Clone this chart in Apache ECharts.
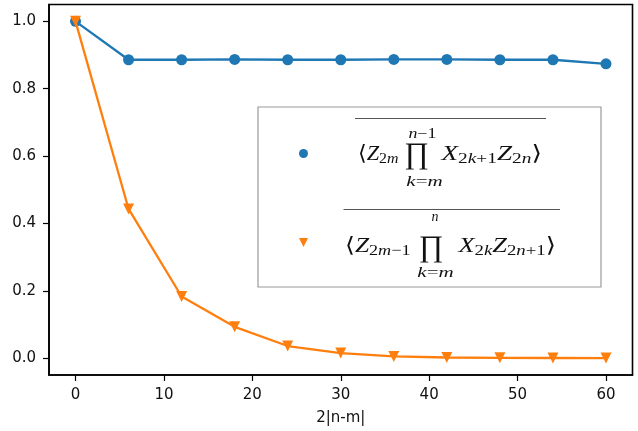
<!DOCTYPE html>
<html>
<head>
<meta charset="utf-8">
<script src="https://cdn.jsdelivr.net/npm/echarts@6/dist/echarts.min.js"></script>
<style>
html,body{margin:0;padding:0;background:#fff;}
#chart{width:638px;height:431px;}
</style>
</head>
<body>
<div id="chart"></div>
<script>
// ---- data ----
const xValues = [0, 6, 12, 18, 24, 30, 36, 42, 48, 54, 60];
const blueValues = [1.0, 0.886, 0.886, 0.887, 0.886, 0.886, 0.887, 0.887, 0.886, 0.886, 0.874];
const orangeValues = [1.0, 0.443, 0.183, 0.093, 0.036, 0.015, 0.005, 0.002, 0.001, 0.0005, 0.0002];
const xTicks = [0, 10, 20, 30, 40, 50, 60];
const yTicks = [0, 0.2, 0.4, 0.6, 0.8, 1.0];
const xName = '2|n-m|';
const seriesNames = ['blue', 'orange'];

const BLUE = '#1f77b4', ORANGE = '#ff7f0e';
const SERIF_NAME = '"Liberation Serif", "DejaVu Serif", serif';
const INK = '#111';

const measureCtx = document.createElement('canvas').getContext('2d');
function isLetter(ch) { return /[A-Za-z]/.test(ch); }
function measure(str, size) {
  let w = 0;
  for (const ch of str) {
    measureCtx.font = (isLetter(ch) ? 'italic ' : '') + size + 'px ' + SERIF_NAME;
    w += measureCtx.measureText(ch).width;
  }
  return w;
}
function richText(str, size) {
  const rich = {
    i: {fontFamily: SERIF_NAME, fontStyle: 'italic', fontSize: size, fill: INK},
    u: {fontFamily: SERIF_NAME, fontStyle: 'normal', fontSize: size, fill: INK}
  };
  let t = '';
  for (const ch of str) t += '{' + (isLetter(ch) ? 'i' : 'u') + '|' + ch + '}';
  return {text: t, rich: rich};
}
function piece(x, midY, str, size, align, sx) {
  const r = richText(str, size);
  return {
    type: 'text', z: 101, x: x, y: midY, scaleX: sx || 1,
    style: {x: 0, y: 0, text: r.text, rich: r.rich,
      font: size + 'px ' + SERIF_NAME, align: align || 'left', verticalAlign: 'middle', fill: INK}
  };
}
// centered piece stretched to a target width
function fitted(cx, midY, str, size, targetW) {
  const w = measure(str, size);
  return piece(cx, midY, str, size, 'center', Math.max(0.8, Math.min(1.5, targetW / w)));
}
// lay out tokens between xLeft and xRight (stretched to fit)
// token: [string, size, baselineShift]
function run(xLeft, xRight, baseline, tokens) {
  const widths = tokens.map(t => measure(t[0], t[1]));
  const total = widths.reduce((a, b) => a + b, 0);
  const k = (xRight - xLeft) / total;
  const out = [];
  let cx = xLeft;
  tokens.forEach((t, i) => {
    const b = baseline + t[2];
    out.push(piece(cx, b - 0.33 * t[1], t[0], t[1], 'left', k));
    cx += widths[i] * k;
  });
  return out;
}
function bigProd(cx, cy, size) {
  return {type: 'text', z: 101,
    style: {x: cx, y: cy, text: '\u220F', font: size + 'px ' + SERIF_NAME,
      align: 'center', verticalAlign: 'middle', fill: INK}};
}
function hline(x1, x2, y) {
  return {type: 'line', z: 101, shape: {x1: x1, y1: y, x2: x2, y2: y},
    style: {stroke: '#555', lineWidth: 1}};
}

const M = 21, S = 15, L = 14, P = 30, SUB = 2.6;
const graphics = [
  {type: 'rect', z: 100, shape: {x: 258, y: 107, width: 343, height: 180},
    style: {fill: '#fff', stroke: '#9a9a9a', lineWidth: 1.2}}
].concat(
  // formula 1
  [hline(355, 546, 118.5)],
  run(358, 398.5, 161.5, [['\u27E8', M, 0], ['Z', M, 0], ['2m', S, SUB]]),
  [bigProd(416.5, 155, P)],
  [fitted(422.5, 134, 'n\u22121', L, 28)],
  [fitted(424.5, 182, 'k=m', L, 38)],
  run(441.5, 542, 161.5, [['X', M, 0], ['2k+1', S, SUB], ['Z', M, 0], ['2n', S, SUB], ['\u27E9', M, 0]]),
  // formula 2
  [hline(343.5, 560, 209.5)],
  run(345, 410.5, 253, [['\u27E8', M, 0], ['Z', M, 0], ['2m\u22121', S, SUB]]),
  [bigProd(431, 248.5, P)],
  [piece(435, 217.5, 'n', L, 'center')],
  [fitted(435.5, 273.5, 'k=m', L, 37)],
  run(458.5, 556, 253, [['X', M, 0], ['2k', S, SUB], ['Z', M, 0], ['2n+1', S, SUB], ['\u27E9', M, 0]])
);

const chart = echarts.init(document.getElementById('chart'), null, {renderer: 'canvas'});
const axisCommon = {
  axisLine: {onZero: false, lineStyle: {color: '#000', width: 1.6}},
  axisTick: {show: true, inside: false, length: 6, lineStyle: {color: '#000', width: 1.2}},
  splitLine: {show: false},
  axisLabel: {color: INK, fontFamily: '"DejaVu Sans", sans-serif', fontSize: 15, margin: 13}
};
chart.setOption({
  animation: false,
  backgroundColor: '#fff',
  grid: {left: 49, right: 5.5, top: 4.5, bottom: 56, show: true, borderColor: '#000', borderWidth: 1.6},
  xAxis: Object.assign({}, axisCommon, {
    type: 'value', min: -3, max: 63,
    axisTick: Object.assign({}, axisCommon.axisTick, {customValues: xTicks}),
    axisLabel: Object.assign({}, axisCommon.axisLabel, {customValues: xTicks}),
    name: xName, nameLocation: 'middle', nameGap: 36,
    nameTextStyle: {color: INK, fontFamily: '"DejaVu Sans", sans-serif', fontSize: 15}
  }),
  yAxis: Object.assign({}, axisCommon, {
    type: 'value', min: -0.05, max: 1.05,
    axisTick: Object.assign({}, axisCommon.axisTick, {customValues: yTicks}),
    axisLabel: Object.assign({}, axisCommon.axisLabel, {customValues: yTicks,
      formatter: v => v.toFixed(1)})
  }),
  legend: {
    orient: 'vertical', left: 294, top: 144, itemGap: 80,
    itemWidth: 9, itemHeight: 9, z: 102,
    formatter: () => '', textStyle: {fontSize: 8},
    selectedMode: false,
    data: [
      {name: seriesNames[0], icon: 'circle', itemStyle: {color: BLUE}},
      {name: seriesNames[1], icon: 'path://M0,0L10,0L5,10Z', itemStyle: {color: ORANGE}}
    ]
  },
  series: [
    {
      name: seriesNames[0], type: 'line',
      data: xValues.map((x, i) => [x, blueValues[i]]),
      symbol: 'circle', symbolSize: 11, showAllSymbol: true,
      itemStyle: {color: BLUE}, lineStyle: {color: BLUE, width: 2.3}, z: 3
    },
    {
      name: seriesNames[1], type: 'line',
      data: xValues.map((x, i) => [x, orangeValues[i]]),
      symbol: 'triangle', symbolRotate: 180, symbolSize: 11, showAllSymbol: true,
      itemStyle: {color: ORANGE}, lineStyle: {color: ORANGE, width: 2.3}, z: 4
    }
  ],
  graphic: graphics
});
</script>
</body>
</html>
